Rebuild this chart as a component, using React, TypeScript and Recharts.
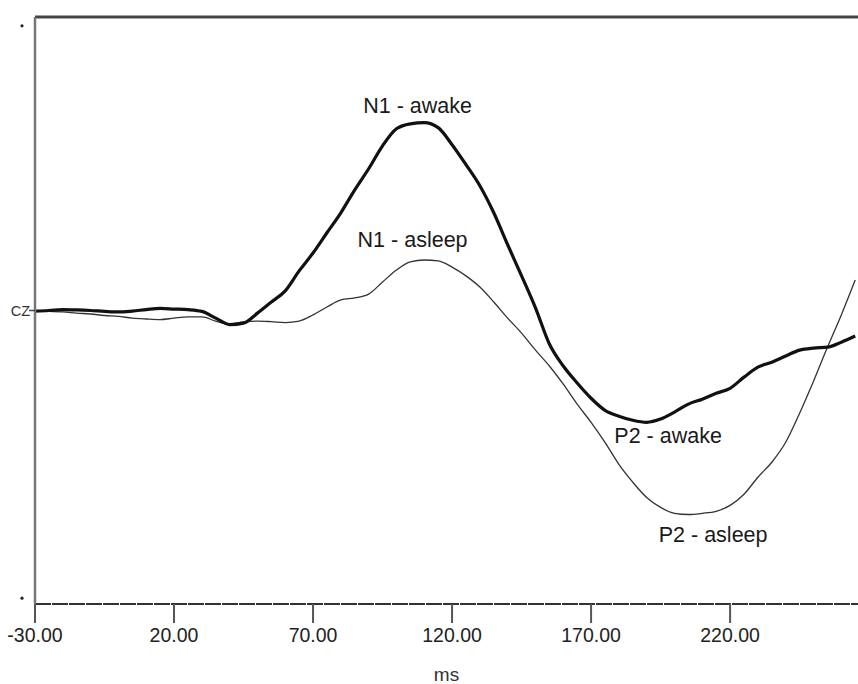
import { LineChart, Line, XAxis, YAxis, ReferenceLine, ReferenceDot } from 'recharts'

// time axis (ms), 5 ms steps
const timeMs = [
  -30, -25, -20, -15, -10, -5, 0, 5, 10, 15, 20, 25, 30, 35, 40, 45, 50, 55, 60, 65,
  70, 75, 80, 85, 90, 95, 100, 105, 110, 115, 120, 125, 130, 135, 140, 145, 150, 155, 160, 165,
  170, 175, 180, 185, 190, 195, 200, 205, 210, 215, 220, 225, 230, 235, 240, 245, 250, 255, 260, 265,
]

// CZ potential, negative up
const awake = [
  0.02, 0, -0.03, -0.02, 0, 0.03, 0.05, 0.02, -0.03, -0.07, -0.05, -0.03, 0.03, 0.26, 0.48, 0.43, 0.09, -0.29, -0.67, -1.35,
  -1.96, -2.65, -3.33, -4.11, -4.83, -5.61, -6.19, -6.36, -6.4, -6.23, -5.65, -4.97, -4.25, -3.33, -2.24, -1.18, -0.09, 1.14, 1.89, 2.47,
  2.99, 3.4, 3.6, 3.74, 3.81, 3.7, 3.46, 3.19, 3.02, 2.82, 2.65, 2.27, 1.93, 1.76, 1.55, 1.35, 1.28, 1.25, 1.08, 0.87,
]

const asleep = [
  0.02, 0.03, 0.05, 0.09, 0.12, 0.17, 0.2, 0.26, 0.29, 0.31, 0.26, 0.22, 0.22, 0.36, 0.46, 0.39, 0.36, 0.38, 0.41, 0.36,
  0.15, -0.12, -0.36, -0.43, -0.56, -0.97, -1.38, -1.66, -1.72, -1.69, -1.48, -1.18, -0.8, -0.29, 0.26, 0.77, 1.35, 1.89, 2.51, 3.19,
  3.81, 4.49, 5.24, 5.85, 6.37, 6.71, 6.91, 6.95, 6.91, 6.84, 6.64, 6.26, 5.68, 5.17, 4.49, 3.5, 2.41, 1.25, 0.15, -1.04,
]

const xTicks = [-30, 20, 70, 120, 170, 220]
const yTicks = [-9.7, 0, 9.8]

const peakNames = ['N1 - awake', 'N1 - asleep', 'P2 - awake', 'P2 - asleep']
const peakTimes = [107.6, 105.8, 197.7, 213.9]
const peakLevels = [-7.0, -2.44, 4.25, 7.63]

const data = timeMs.map((t, i) => ({ t, awake: awake[i], asleep: asleep[i] }))

const FONT = '"Liberation Sans", Arial, sans-serif'

function CzTick(props: any) {
  const { x, y, payload } = props
  if (payload.value === 0) {
    return (
      <g>
        <text x={x - 5} y={y} textAnchor="end" dominantBaseline="central" fontSize={14.5} fill="#333" fontFamily={FONT}>
          CZ
        </text>
        <line x1={x - 6} x2={x} y1={y} y2={y} stroke="#444" strokeWidth={1.5} />
      </g>
    )
  }
  return <circle cx={x - 13} cy={y} r={1.6} fill="#222" />
}

export default function App() {
  return (
    <div style={{ position: 'absolute', left: 0, top: 0, background: '#fff' }}>
      <LineChart width={858} height={684} data={data} margin={{ top: 17, right: 0, bottom: 0, left: 0 }}>
        <XAxis
          dataKey="t"
          type="number"
          domain={[-30, 266]}
          ticks={xTicks}
          tickFormatter={(v: number) => v.toFixed(2)}
          height={80}
          tickSize={19}
          tickMargin={5}
          axisLine={{ stroke: '#333', strokeWidth: 2, strokeDasharray: '16 1' }}
          tickLine={{ stroke: '#555', strokeWidth: 2 }}
          tick={{ fill: '#222', fontSize: 19.5, fontFamily: FONT }}
          label={{ value: 'ms', position: 'insideBottom', offset: 3, fill: '#333', fontSize: 19, fontFamily: FONT }}
        />
        <YAxis
          type="number"
          domain={[-10, 10]}
          reversed
          ticks={yTicks}
          width={35}
          tickSize={0}
          tickMargin={0}
          tickLine={false}
          axisLine={{ stroke: '#777', strokeWidth: 2.5 }}
          tick={<CzTick />}
          allowDataOverflow
        />
        <ReferenceLine y={-10} stroke="#444" strokeWidth={3} />
        <Line type="monotone" dataKey="asleep" stroke="#333" strokeWidth={1.3} dot={false} isAnimationActive={false} />
        <Line type="monotone" dataKey="awake" stroke="#111" strokeWidth={3.2} dot={false} isAnimationActive={false} />
        {peakNames.map((name, i) => (
          <ReferenceDot
            key={name}
            x={peakTimes[i]}
            y={peakLevels[i]}
            r={0}
            stroke="none"
            label={{ value: name, position: 'center', fill: '#1a1a1a', fontSize: 21.5, fontFamily: FONT }}
          />
        ))}
      </LineChart>
    </div>
  )
}
